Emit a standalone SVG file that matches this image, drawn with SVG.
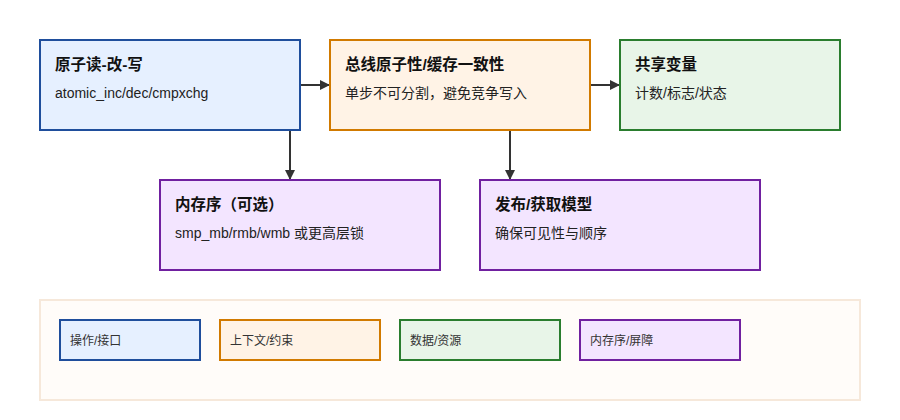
<svg xmlns="http://www.w3.org/2000/svg" width="900" height="420" viewBox="0 0 900 420">
<defs>
<marker id="arr" viewBox="0 0 10 10" refX="10" refY="5" markerWidth="10" markerHeight="10" markerUnits="userSpaceOnUse" orient="auto"><path d="M0,0 L10,5 L0,10 z" fill="#333"/></marker>
<style>
.t{font-family:"Liberation Sans","Noto Sans CJK SC",sans-serif;font-size:15.5px;font-weight:bold;fill:#111}
.s{font-family:"Liberation Sans","Noto Sans CJK SC",sans-serif;font-size:14px;fill:#222}
.l{font-family:"Liberation Sans","Noto Sans CJK SC",sans-serif;font-size:12px;fill:#333}
.op{fill:#e6f0ff;stroke:#1f4e9c;stroke-width:2}
.ctx{fill:#fff3e6;stroke:#d17a00;stroke-width:2}
.dat{fill:#e8f5e8;stroke:#2a7d2e;stroke-width:2}
.mem{fill:#f3e5ff;stroke:#7020a0;stroke-width:2}
.c{stroke:#333;stroke-width:2;fill:none;marker-end:url(#arr)}
</style>
</defs>
<rect width="900" height="420" fill="#fff"/>
<g id="legend">
<rect x="40" y="300" width="820" height="100" fill="#fffcf9" stroke="#f6e8da" stroke-width="2"/>
<rect class="op" x="60" y="320" width="140" height="40"/><text class="l" x="70" y="345">操作/接口</text>
<rect class="ctx" x="220" y="320" width="160" height="40"/><text class="l" x="230" y="345">上下文/约束</text>
<rect class="dat" x="400" y="320" width="160" height="40"/><text class="l" x="410" y="345">数据/资源</text>
<rect class="mem" x="580" y="320" width="160" height="40"/><text class="l" x="590" y="345">内存序/屏障</text>
</g>
<g id="connectors">
<line class="c" x1="300" y1="85" x2="330" y2="85"/>
<line class="c" x1="590" y1="85" x2="620" y2="85"/>
<line class="c" x1="290" y1="130" x2="290" y2="180"/>
<line class="c" x1="510" y1="130" x2="510" y2="180"/>
</g>
<g id="rmw">
<rect class="op" x="40" y="40" width="260" height="90"/>
<text class="t" x="55" y="70">原子读-改-写</text>
<text class="s" x="55" y="98">atomic_inc/dec/cmpxchg</text>
</g>
<g id="bus">
<rect class="ctx" x="330" y="40" width="260" height="90"/>
<text class="t" x="345" y="70">总线原子性/缓存一致性</text>
<text class="s" x="345" y="98">单步不可分割，避免竞争写入</text>
</g>
<g id="shared">
<rect class="dat" x="620" y="40" width="220" height="90"/>
<text class="t" x="635" y="70">共享变量</text>
<text class="s" x="635" y="98">计数/标志/状态</text>
</g>
<g id="memorder">
<rect class="mem" x="160" y="180" width="280" height="90"/>
<text class="t" x="175" y="210">内存序（可选）</text>
<text class="s" x="175" y="238">smp_mb/rmb/wmb 或更高层锁</text>
</g>
<g id="relacq">
<rect class="mem" x="480" y="180" width="280" height="90"/>
<text class="t" x="495" y="210">发布/获取模型</text>
<text class="s" x="495" y="238">确保可见性与顺序</text>
</g>
</svg>
